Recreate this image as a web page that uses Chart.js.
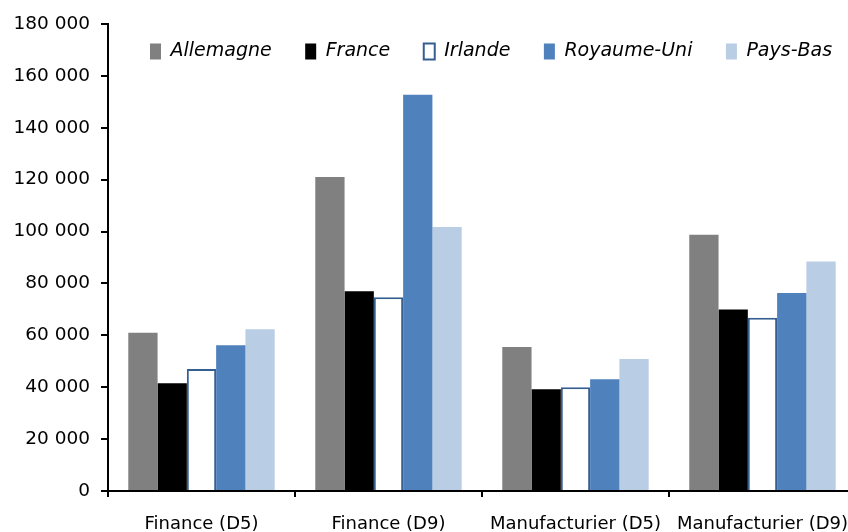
<!DOCTYPE html>
<html>
<head>
<meta charset="utf-8">
<script src="https://cdn.jsdelivr.net/npm/chart.js@4/dist/chart.umd.min.js"></script>
<style>
  html, body { margin: 0; padding: 0; background: #fff; overflow: hidden; }
  #wrap { width: 865px; height: 532px; }
</style>
</head>
<body>
<div id="wrap"><canvas id="c" width="865" height="532"></canvas></div>
<script>
// Categories and values (salaires, par pays)
const categories = ['Finance (D5)', 'Finance (D9)', 'Manufacturier (D5)', 'Manufacturier (D9)'];
const allemagne  = [61000, 121000, 55500, 98800];
const france     = [41500, 77000, 39200, 70000];
const irlande    = [47000, 74700, 40000, 66800];
const royaumeUni = [56200, 152700, 43100, 76300];
const paysBas    = [62300, 101800, 50900, 88500];
const yTickLabels = ['0', '20 000', '40 000', '60 000', '80 000', '100 000',
                     '120 000', '140 000', '160 000', '180 000'];

const FONT = 'DejaVu Sans';

// Keeps the legend out of the layout, then places it inside the plot,
// just below the top of the value axis, on a single row
const legendPlacement = {
  id: 'legendPlacement',
  beforeLayout(chart) {
    const lg = chart.legend;
    if (lg && !lg._noSpace) {
      const baseFit = Object.getPrototypeOf(lg).fit;
      lg.fit = function () {
        baseFit.call(this);
        this._fullHeight = this.height;
        this.height = 0;
      };
      lg._noSpace = true;
    }
  },
  afterLayout(chart) {
    const lg = chart.legend;
    if (!lg) return;
    const pad = lg.options.labels.padding;
    lg.left = 150 - pad;
    lg.right = lg.left + 1200;
    lg.width = lg.right - lg.left;
    lg.top = 42 - pad;
    lg.height = lg._fullHeight || 100;
    lg.bottom = lg.top + lg.height;
  }
};

new Chart(document.getElementById('c'), {
  type: 'bar',
  data: {
    labels: categories,
    datasets: [
      { label: 'Allemagne', data: allemagne, backgroundColor: '#808080', borderWidth: 0 },
      { label: 'France', data: france, backgroundColor: '#000000', borderWidth: 0 },
      { label: 'Irlande', data: irlande, backgroundColor: '#ffffff', borderColor: '#365F91', borderWidth: 2 },
      { label: 'Royaume-Uni', data: royaumeUni, backgroundColor: '#4F81BD', borderWidth: 0 },
      { label: 'Pays-Bas', data: paysBas, backgroundColor: '#B9CDE5', borderWidth: 0 }
    ]
  },
  options: {
    responsive: false,
    animation: false,
    devicePixelRatio: 1,
    layout: { padding: { top: 24, right: 0, bottom: 0, left: 0 } },
    datasets: { bar: { categoryPercentage: 0.783, barPercentage: 1.0 } },
    plugins: {
      tooltip: { enabled: false },
      legend: {
        position: 'top',
        align: 'start',
        labels: {
          boxWidth: 11,
          boxHeight: 16,
          padding: 33.5,
          color: '#000',
          font: { family: FONT, size: 19, style: 'italic' }
        }
      }
    },
    scales: {
      x: {
        border: { display: true, color: '#000', width: 2 },
        grid: { display: true, drawOnChartArea: false, drawTicks: true, tickLength: 6,
                color: '#000', lineWidth: 2, offset: true },
        ticks: { color: '#000', padding: 17, maxRotation: 0, autoSkip: false,
                 font: { family: FONT, size: 18 } },
        afterFit(scale) { scale.height = 41; }
      },
      y: {
        min: 0, max: 180000,
        border: { display: true, color: '#000', width: 2 },
        grid: { display: true, drawOnChartArea: false, drawTicks: true, tickLength: 7,
                color: '#000', lineWidth: 2 },
        ticks: {
          stepSize: 20000, color: '#000', padding: 11,
          font: { family: FONT, size: 18.5 },
          callback: (value, index) => yTickLabels[index]
        },
        afterFit(scale) { scale.width = 108; }
      }
    }
  },
  plugins: [legendPlacement]
});
</script>
</body>
</html>
